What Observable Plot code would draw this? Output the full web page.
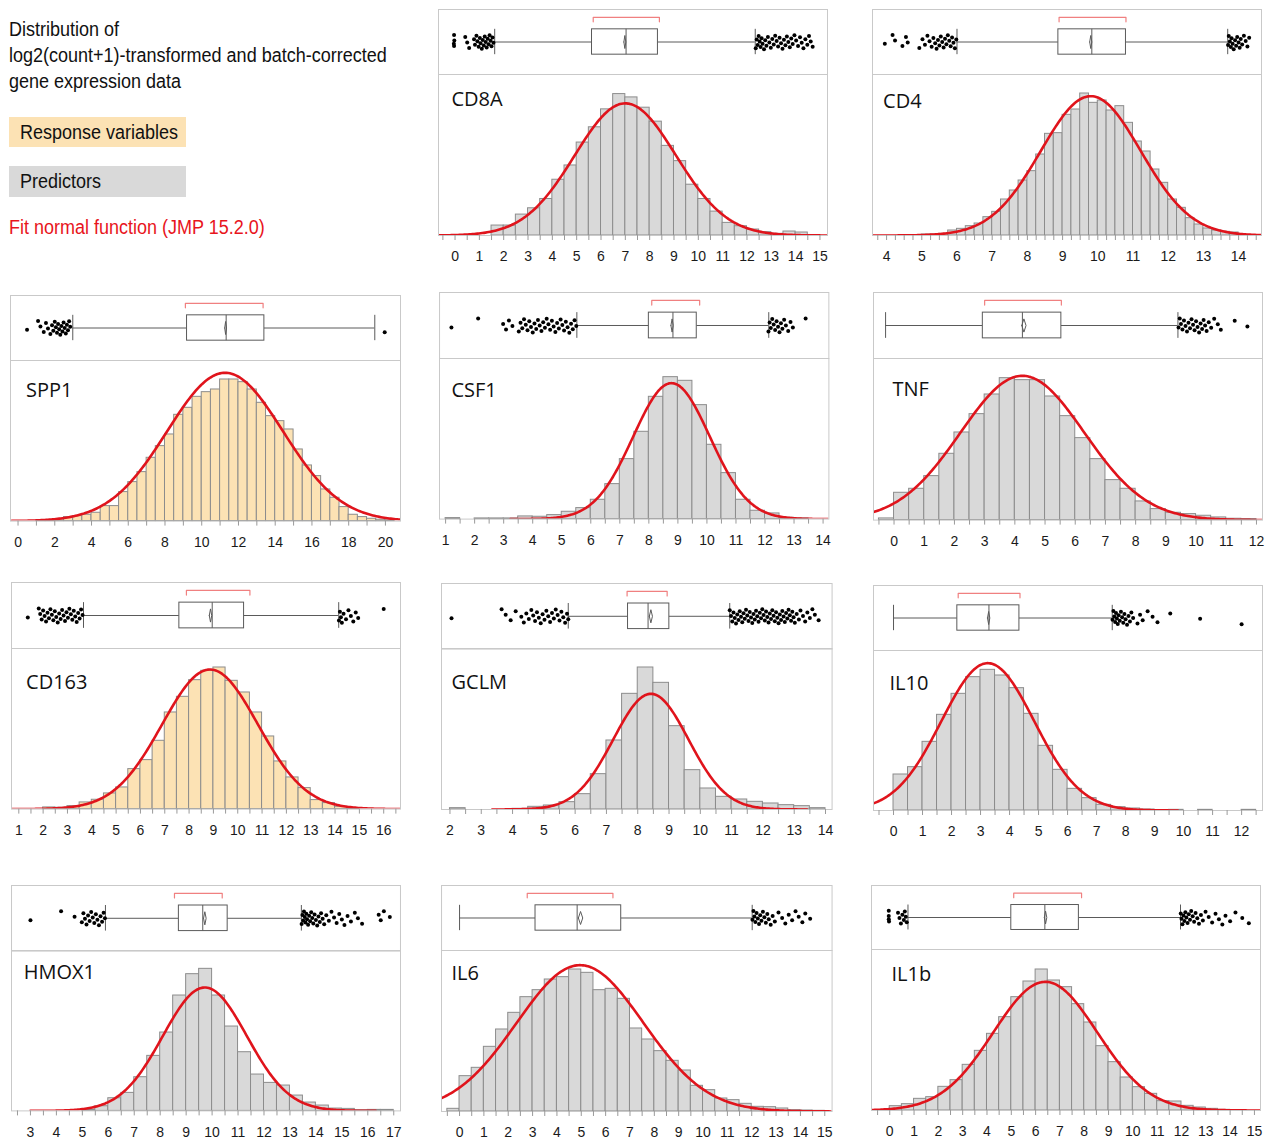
<!DOCTYPE html>
<html><head><meta charset="utf-8">
<script src="https://cdn.jsdelivr.net/npm/d3@7"></script>
<script src="https://cdn.jsdelivr.net/npm/@observablehq/plot@0.6"></script>
<style>
body{margin:0;background:#fff;width:1273px;height:1140px;position:relative;overflow:hidden;font-family:"Liberation Sans",Arial,sans-serif;}
.panel{position:absolute;}
.panel svg{position:absolute;left:0;overflow:visible;max-width:none !important;}
.lg{position:absolute;left:9px;font-size:20px;color:#111;white-space:nowrap;}
.lg span{display:inline-block;transform:scaleX(0.9);transform-origin:0 50%;}
</style></head><body>
<div class="lg" style="top:16px;line-height:26px;"><span>Distribution of</span><br><span>log2(count+1)-transformed and batch-corrected</span><br><span>gene expression data</span></div>
<div class="lg" style="top:117px;width:166px;height:30px;line-height:30px;padding-left:11px;background:#fce2b4;"><span>Response variables</span></div>
<div class="lg" style="top:166px;width:166px;height:31px;line-height:31px;padding-left:11px;background:#d9d9d9;"><span>Predictors</span></div>
<div class="lg" style="top:214px;line-height:26px;color:#e8141c;"><span>Fit normal function (JMP 15.2.0)</span></div>
<script>
// ---------------- DATA ----------------
const genes = ["CD8A","CD4","SPP1","CSF1","TNF","CD163","GCLM","IL10","HMOX1","IL6","IL1b"];
const roles = ["Predictor","Predictor","Response","Predictor","Predictor","Response","Predictor","Predictor","Predictor","Predictor","Predictor"];
const xDomains = [[-0.68,15.31],[3.6,14.65],[-0.41,20.82],[0.79,14.2],[-0.68,12.2],[0.70,16.69],[1.73,14.21],[-0.69,12.72],[2.27,17.26],[-0.74,15.3],[-0.75,15.25]];
const yMax = [485,483,482,482,485,482,483,480,481,483,483];
const tickStep = [0.5,0.25,1,0.5,0.5,0.5,0.5,0.5,0.5,0.5,0.5];
const labelStep = [1,1,2,1,1,1,1,1,1,1,1];
const binStart = [1.5,5.0,1.0,1.0,-0.5,2.0,2.0,0,5.0,-0.5,0];
const binWidth = [0.5,0.25,0.5,0.5,0.5,0.5,0.5,0.5,0.5,0.5,0.5];
const countsCD8A = [30,30,63,82,110,168,211,280,326,380,426,416,385,343,270,224,153,110,72,38,28,18,10,5,12,9];
const countsCD4 = [3,3,5,15,20,28,36,55,71,108,135,165,193,243,305,307,362,378,426,398,405,375,388,338,282,252,198,158,108,83,52,33,21,15,11,9,2];
const countsSPP1 = [2,3,5,12,15,19,25,45,45,87,117,147,190,225,260,319,340,373,387,395,425,425,417,395,355,315,300,275,215,167,135,95,70,42,19,12,7,4,2];
const countsCSF1 = [3,0,2,2,2,8,7,12,22,33,58,105,180,262,367,426,415,342,223,138,58,25,17,4,2];
const countsTNF = [5,82,94,132,199,263,318,377,426,420,420,371,312,246,183,120,94,56,33,22,18,13,8,4,3];
const countsCD163 = [5,4,9,20,28,47,65,120,147,205,290,337,387,415,425,385,350,290,218,143,95,63,27,18,7,2];
const countsGCLM = [4,0,0,0,2,8,12,22,46,106,207,347,426,380,250,118,63,38,30,23,18,13,10,4];
const countsIL10 = [108,130,206,287,350,400,422,405,367,290,194,122,65,37,17,10,6,3,1,2,0,2,0,0,2];
const countsHMOX1 = [3,14,38,54,101,165,235,346,410,426,346,253,176,109,84,76,46,25,16,7,6,2,3,3];
const countsIL6 = [8,106,131,194,246,296,343,364,396,403,426,416,364,368,338,249,216,181,152,123,77,64,39,34,23,14,13,9,4,3,2];
const countsIL1b = [13,19,35,40,71,91,137,179,230,280,340,387,423,390,370,319,264,193,145,99,70,50,28,27,14,9,5,2];
const counts = [countsCD8A,countsCD4,countsSPP1,countsCSF1,countsTNF,countsCD163,countsGCLM,countsIL10,countsHMOX1,countsIL6,countsIL1b];
// normal fit
const fitMean = [7.0,9.8,11.27,8.78,4.25,8.86,8.42,3.25,9.72,4.95,6.4];
const fitSD = [2.08,1.42,3.15,1.32,2.05,1.97,1.2,1.6,1.62,2.6,2.14];
const fitPeak = [398,418,445,408,433,419,347,442,370,439,386];
const fitFrom = [null,null,null,3.23,null,null,3.35,null,3.0,null,null];
const fitTo = [null,null,null,null,null,null,13.41,9.8,16.3,null,null];
// box plot statistics
const whiskerLo = [1.63,6.0,2.98,5.52,-0.28,3.66,5.78,0.0,5.89,0.0,0.75];
const q1 = [5.63,8.88,9.2,8.0,2.94,7.6,7.69,2.2,8.72,3.12,5.0];
const median = [7.03,9.83,11.33,8.83,4.25,8.95,8.33,3.29,9.64,4.83,6.38];
const q3 = [8.34,10.8,13.41,9.65,5.54,10.26,9.01,4.34,10.6,6.64,7.78];
const whiskerHi = [12.34,13.69,19.42,12.13,9.4,14.15,10.94,7.54,13.44,12.02,11.96];
const boxMean = [6.98,9.8,11.3,8.8,4.3,8.88,8.42,3.28,9.72,4.97,6.41];
const meanCI = [0.04,0.03,0.05,0.04,0.07,0.05,0.05,0.04,0.05,0.09,0.05];
const shortHalfLo = [5.68,8.9,9.11,8.1,3.0,7.89,7.66,2.23,8.55,2.78,5.1];
const shortHalfHi = [8.40,10.8,13.34,9.75,5.54,10.5,8.94,4.36,10.39,6.3,7.89];
// outliers
const outCD8A = [-0.05,-0.04,-0.03,-0.04,0.42,0.5,0.58,0.78,0.82,0.88,0.92,0.97,1.02,1.05,1.1,1.14,1.18,1.22,1.26,1.3,1.34,1.38,1.42,1.46,1.5,1.54,1.58,
  12.36,12.4,12.44,12.48,12.52,12.56,12.6,12.64,12.7,12.75,12.8,12.86,12.92,12.98,13.04,13.1,13.16,13.22,13.28,13.34,13.4,13.46,13.52,13.58,13.64,13.7,13.76,13.82,13.88,13.95,14.02,14.1,14.18,14.25,14.32,14.4,14.48,14.55,14.62,14.7];
const outCD4 = [3.95,4.17,4.24,4.45,4.55,4.6,4.93,5.02,5.09,5.16,5.22,5.28,5.33,5.38,5.42,5.46,5.5,5.54,5.58,5.62,5.66,5.7,5.74,5.78,5.82,5.86,5.9,5.94,5.98,
  13.7,13.72,13.75,13.78,13.8,13.83,13.86,13.9,13.93,13.96,14.0,14.03,14.06,14.1,14.15,14.2,14.25,14.3];
const outSPP1 = [0.49,1.09,1.22,1.4,1.52,1.63,1.76,1.85,1.92,2.0,2.06,2.12,2.18,2.24,2.3,2.36,2.42,2.48,2.54,2.6,2.66,2.72,2.78,2.84,19.96];
const outCSF1 = [1.2,2.12,2.98,3.08,3.18,3.3,3.52,3.58,3.64,3.7,3.76,3.82,3.88,3.94,4.0,4.06,4.12,4.18,4.24,4.3,4.36,4.42,4.48,4.54,4.6,4.66,4.72,4.78,4.84,4.9,4.96,5.02,5.08,5.14,5.2,5.26,5.32,5.38,5.44,5.5,
  12.12,12.16,12.2,12.25,12.3,12.35,12.4,12.45,12.5,12.55,12.6,12.66,12.72,12.8,12.88,12.96,13.4];
const outTNF = [9.42,9.46,9.5,9.55,9.6,9.65,9.7,9.75,9.8,9.85,9.9,9.95,10.0,10.05,10.1,10.15,10.2,10.25,10.3,10.35,10.42,10.5,10.6,10.72,10.82,11.28,11.7];
const outCD163 = [1.37,1.82,1.88,1.94,2.0,2.06,2.12,2.18,2.24,2.3,2.36,2.42,2.48,2.54,2.6,2.66,2.72,2.78,2.84,2.9,2.96,3.02,3.08,3.14,3.2,3.26,3.32,3.38,3.44,3.5,3.56,3.62,
  14.16,14.2,14.24,14.28,14.35,14.45,14.55,14.65,14.75,14.85,14.95,16.0];
const outGCLM = [2.05,3.65,3.78,3.94,4.1,4.28,4.36,4.44,4.52,4.6,4.66,4.72,4.78,4.84,4.9,4.96,5.02,5.08,5.14,5.2,5.26,5.32,5.38,5.44,5.5,5.56,5.62,5.68,5.74,5.78,
  10.94,10.98,11.02,11.06,11.1,11.14,11.18,11.22,11.26,11.3,11.34,11.38,11.42,11.46,11.5,11.54,11.58,11.62,11.66,11.7,11.74,11.78,11.82,11.86,11.9,11.94,11.98,12.02,12.06,12.1,12.14,12.18,12.22,12.26,12.3,12.34,12.38,12.42,12.46,12.5,12.54,12.58,12.62,12.66,12.7,12.74,12.78,12.82,12.86,12.9,12.94,12.98,13.02,
  13.08,13.15,13.2,13.28,13.35,13.42,13.5,13.58,13.66,13.78];
const outIL10 = [7.55,7.58,7.61,7.64,7.67,7.7,7.73,7.76,7.8,7.84,7.88,7.92,7.96,8.0,8.05,8.1,8.15,8.2,8.26,8.41,8.5,8.59,8.76,8.93,9.1,9.54,10.57,12.0];
const outHMOX1 = [3.0,4.18,4.7,4.98,5.04,5.1,5.16,5.22,5.28,5.34,5.4,5.46,5.52,5.58,5.64,5.7,5.76,5.82,5.87,
  13.45,13.48,13.51,13.54,13.57,13.6,13.63,13.66,13.7,13.74,13.78,13.82,13.86,13.9,13.95,14.0,14.05,14.1,14.15,14.2,14.26,14.32,14.4,14.5,14.6,14.7,14.8,14.9,15.0,15.1,15.22,15.35,15.5,15.62,15.78,16.42,16.5,16.62,16.85];
const outIL6 = [12.03,12.07,12.11,12.15,12.2,12.25,12.3,12.35,12.4,12.46,12.52,12.58,12.64,12.7,12.78,12.86,12.95,13.1,13.25,13.38,13.52,13.66,13.8,13.93,14.08,14.2,14.4];
const outIL1b = [-0.04,-0.04,-0.04,-0.03,0.34,0.4,0.46,0.52,0.58,0.62,0.66,0.7,
  11.97,12.0,12.04,12.08,12.12,12.16,12.2,12.25,12.3,12.35,12.4,12.46,12.52,12.58,12.65,12.72,12.8,12.88,12.99,13.12,13.26,13.4,13.54,13.68,13.81,14.0,14.22,14.5,14.77];
const outliers = [outCD8A,outCD4,outSPP1,outCSF1,outTNF,outCD163,outGCLM,outIL10,outHMOX1,outIL6,outIL1b];

// ---------------- LAYOUT (page pixels) ----------------
const frameLeft = [437.7,871.7,9.7,439.3,872.7,10.7,440.7,872.7,10.7,440.7,870.7];
const frameRight = [826.7,1260.7,399.7,828.7,1261.7,399.7,831.3,1261.7,399.7,831.3,1259.7];
const boxTop = [9,9.3,294.7,291.7,291.7,581.7,582.7,585,884.7,884.7,884.7];
const sepY = [74,74.3,359.7,357.7,357.7,647.7,648.3,650,950.3,949.7,948.7];
const baseY = [235,235.3,520.3,518.3,519.3,808.3,809.3,810,1110.7,1110.7,1109.7];
const labelDx = [13,10.6,15.6,12,19,14.6,10,16,12.3,10,20];
const labelDy = [25,27,30,32,31,34,34,33,22.4,23,25];

const fills = {Response: "#fce2b4", Predictor: "#d9d9d9"};
const frameColor = "#c9c9c9";
const boxStroke = "#5a5a5a";
const fitColor = "#e0141c";
const fontStyle = {fontFamily: "'Liberation Sans', Arial, sans-serif", fontSize: "14px", color: "#222", background: "transparent", overflow: "visible", maxWidth: "none"};
// deterministic vertical jitter (golden-ratio sequence) for the outlier dots
const jitter = k => (((k * 0.6180339887 + 0.37) % 1) - 0.5) * 0.44;

genes.forEach((gene, i) => {
  const dom = xDomains[i];
  const W = frameRight[i] - frameLeft[i];
  const boxH = sepY[i] - boxTop[i];
  const histH = baseY[i] - sepY[i];

  const div = document.createElement("div");
  div.className = "panel";
  div.style.left = (frameLeft[i] - 1) + "px";
  div.style.top = (boxTop[i] - 1) + "px";
  div.style.width = (W + 2) + "px";
  div.style.height = (baseY[i] - boxTop[i] + 32) + "px";
  document.body.appendChild(div);

  // ---- box plot ----
  const st = [{lo: whiskerLo[i], q1: q1[i], med: median[i], q3: q3[i], hi: whiskerHi[i]}];
  const m = boxMean[i], c = meanCI[i];
  const diamond = [{x: m - c, y: 0}, {x: m, y: 0.2}, {x: m + c, y: 0}, {x: m, y: -0.2}, {x: m - c, y: 0}];
  const bracket = [{x: shortHalfLo[i], y: 0.62}, {x: shortHalfLo[i], y: 0.76}, {x: shortHalfHi[i], y: 0.76}, {x: shortHalfHi[i], y: 0.62}];
  const pts = outliers[i].map((v, k) => ({x: v, y: jitter(k)}));
  const hb = 0.39;
  const box = Plot.plot({
    width: W + 2, height: boxH + 2, marginLeft: 1, marginRight: 1, marginTop: 1, marginBottom: 1,
    x: {domain: dom, axis: null, label: null},
    y: {domain: [-1, 1], axis: null, label: null},
    style: fontStyle,
    marks: [
      Plot.frame({stroke: frameColor}),
      Plot.ruleY(st, {x1: "lo", x2: "q1", y: 0, stroke: boxStroke, strokeWidth: 1}),
      Plot.ruleY(st, {x1: "q3", x2: "hi", y: 0, stroke: boxStroke, strokeWidth: 1}),
      Plot.ruleX(st, {x: "lo", y1: -hb, y2: hb, stroke: boxStroke}),
      Plot.ruleX(st, {x: "hi", y1: -hb, y2: hb, stroke: boxStroke}),
      Plot.rect(st, {x1: "q1", x2: "q3", y1: -hb, y2: hb, fill: "white", stroke: boxStroke, strokeWidth: 1}),
      Plot.ruleX(st, {x: "med", y1: -hb, y2: hb, stroke: boxStroke}),
      Plot.line(diamond, {x: "x", y: "y", stroke: boxStroke, strokeWidth: 1}),
      Plot.line(bracket, {x: "x", y: "y", stroke: "#f08080", strokeWidth: 1.2}),
      Plot.dot(pts, {x: "x", y: "y", r: 2, fill: "#000", stroke: "none"})
    ]
  });
  box.style.top = "0px";
  div.appendChild(box);

  // ---- histogram ----
  const bins = counts[i].map((v, k) => ({x1: binStart[i] + k * binWidth[i], x2: binStart[i] + (k + 1) * binWidth[i], count: v})).filter(d => d.count > 0);
  const cLo = fitFrom[i] == null ? dom[0] : fitFrom[i];
  const cHi = fitTo[i] == null ? dom[1] : fitTo[i];
  const n = 240;
  const curve = d3.range(n + 1).map(k => {
    const x = cLo + (cHi - cLo) * k / n;
    const z = (x - fitMean[i]) / fitSD[i];
    return {x, y: fitPeak[i] * Math.exp(-0.5 * z * z)};
  });
  const ticks = d3.range(Math.ceil(dom[0] / tickStep[i] - 1e-9) * tickStep[i], dom[1] + 1e-9, tickStep[i]).map(t => +t.toFixed(4));
  const labels = ticks.filter(t => Math.abs(t / labelStep[i] - Math.round(t / labelStep[i])) < 1e-6);
  const hist = Plot.plot({
    width: W + 2, height: histH + 1 + 30, marginLeft: 1, marginRight: 1, marginTop: 1, marginBottom: 30,
    x: {domain: dom, label: null},
    y: {domain: [0, yMax[i]], axis: null, label: null},
    style: fontStyle,
    marks: [
      Plot.rect(bins, {x1: "x1", x2: "x2", y1: 0, y2: "count", fill: fills[roles[i]], stroke: "#8c8c8c", strokeWidth: 1}),
      Plot.line(curve, {x: "x", y: "y", stroke: fitColor, strokeWidth: 2.6, clip: true}),
      Plot.frame({stroke: frameColor}),
      Plot.axisX({ticks: ticks, tickSize: 5, stroke: "#9a9a9a", tickFormat: () => "", label: null}),
      Plot.axisX({ticks: labels, tickSize: 0, tickPadding: 16, fill: "#1a1a1a", fontSize: 14, tickFormat: d => String(d), label: null}),
      Plot.text([gene], {frameAnchor: "top-left", dx: labelDx[i], dy: labelDy[i], text: d => d, textAnchor: "start", lineAnchor: "middle", fontSize: 20, fontFamily: "'Open Sans', 'Noto Sans', sans-serif", fill: "#111"})
    ]
  });
  hist.style.top = (sepY[i] - boxTop[i]) + "px";
  div.appendChild(hist);
});
</script>
</body></html>
